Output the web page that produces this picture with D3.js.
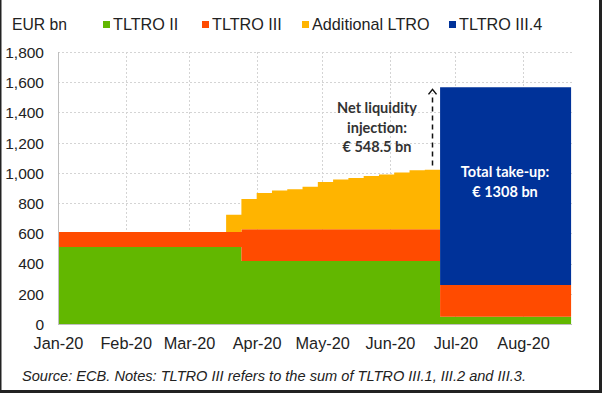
<!DOCTYPE html>
<html><head><meta charset="utf-8">
<script src="https://cdn.jsdelivr.net/npm/d3@7"></script>
<style>
html,body{margin:0;padding:0;background:#fff;}
svg{display:block;}
</style></head>
<body>
<svg id="chart" width="602" height="393"></svg>
<script>
// ---- data ----
const stepDates = ["2020-01-01","2020-03-18","2020-03-25","2020-04-01","2020-04-08","2020-04-15","2020-04-22","2020-04-29","2020-05-06","2020-05-13","2020-05-20","2020-05-27","2020-06-03","2020-06-10","2020-06-17","2020-06-24","2020-08-23"];
const tltro2     = [510,510,417,417,417,417,417,417,417,417,417,417,417,417,417,48,48];
const tltro3     = [98, 98, 210,210,210,210,210,210,210,210,210,210,210,210,210,210,210];
const addLtro    = [0, 115,200,240,256,265,282,313,330,340,352,362,375,390,393,0,0];
const tltro34    = [0,0,0,0,0,0,0,0,0,0,0,0,0,0,0,1308,1308];
const seriesNames = ["TLTRO II","TLTRO III","Additional LTRO","TLTRO III.4"];
const seriesColors = ["#62b700","#ff4b00","#ffb400","#003299"];
const yTicks = [0,200,400,600,800,1000,1200,1400,1600,1800];
const monthTicks = ["2020-01-01","2020-02-01","2020-03-01","2020-04-01","2020-05-01","2020-06-01","2020-07-01","2020-08-01"];
const unitLabel = "EUR bn";
const noteText = "Source: ECB. Notes: TLTRO III refers to the sum of TLTRO III.1, III.2 and III.3.";
const arrowNote = ["Net liquidity","injection:","€ 548.5 bn"];
const takeUpNote = ["Total take-up:","€ 1308 bn"];

// ---- build ----
const parse = d3.utcParse("%Y-%m-%d");
const keys = ["a","b","c","d"];
const table = stepDates.map((d,i)=>({date:parse(d), a:tltro2[i], b:tltro3[i], c:addLtro[i], d:tltro34[i]}));
const stacked = d3.stack().keys(keys)(table);

const svg = d3.select("#chart");
const x = d3.scaleUtc().domain([parse("2020-01-01"), new Date(Date.UTC(2020,7,22,12))]).range([58,570]);
const y = d3.scaleLinear().domain([0,1800]).range([324,52]);

const font = "'Liberation Sans', Arial, sans-serif";

// gridlines
const grid = svg.append("g");
grid.selectAll("line.h").data(yTicks.slice(1)).join("line")
  .attr("x1",58).attr("x2",572).attr("y1",d=>Math.round(y(d))+0.5).attr("y2",d=>Math.round(y(d))+0.5)
  .attr("stroke","#d4d4d4").attr("stroke-width",1).attr("stroke-dasharray","2,2");
grid.selectAll("line.v").data(monthTicks.slice(1)).join("line")
  .attr("x1",d=>Math.round(x(parse(d)))+0.5).attr("x2",d=>Math.round(x(parse(d)))+0.5)
  .attr("y1",52).attr("y2",324)
  .attr("stroke","#d4d4d4").attr("stroke-width",1).attr("stroke-dasharray","2,2");

// areas
const area = d3.area().curve(d3.curveStepAfter)
  .x(d=>x(d.data.date)).y0(d=>y(d[0])).y1(d=>y(d[1]));
svg.append("g").selectAll("path").data(stacked).join("path")
  .attr("d",area).attr("fill",(d,i)=>seriesColors[i]);

// axes
const yAxis = d3.axisLeft(y).tickValues(yTicks).tickSize(0).tickPadding(0).tickFormat(d3.format(","));
const ya = svg.append("g").attr("transform","translate(44,0)").call(yAxis);
ya.select(".domain").remove();
ya.selectAll("text").attr("font-family",font).attr("font-size",15.5).attr("fill","#222").attr("dy","0.35em");
svg.append("line").attr("x1",58.5).attr("x2",58.5).attr("y1",52).attr("y2",324).attr("stroke","#bfbfbf");
svg.append("line").attr("x1",58).attr("x2",572).attr("y1",324.5).attr("y2",324.5).attr("stroke","#bfbfbf");

const xAxis = d3.axisBottom(x).tickValues(monthTicks.map(parse)).tickSize(0).tickPadding(0).tickFormat(d3.utcFormat("%b-%y"));
const xa = svg.append("g").attr("transform","translate(0,337)").call(xAxis);
xa.select(".domain").remove();
xa.selectAll("text").attr("font-family",font).attr("font-size",16.3).attr("fill","#222").attr("dy","0.71em");

// legend
svg.append("text").attr("x",12).attr("y",30).attr("font-family",font).attr("font-size",15.7).attr("fill","#222").text(unitLabel);
const legX = [103,202,302,449];
const leg = svg.append("g").selectAll("g").data(seriesNames).join("g");
leg.append("rect").attr("x",(d,i)=>legX[i]).attr("y",21).attr("width",7).attr("height",7).attr("fill",(d,i)=>seriesColors[i]);
leg.append("text").attr("x",(d,i)=>legX[i]+10).attr("y",30).attr("font-family",font).attr("font-size",16.2).attr("fill","#222").text(d=>d);

// arrow annotation
const ax = 432.5;
svg.append("line").attr("x1",ax).attr("x2",ax).attr("y1",y(1022)-4).attr("y2",y(1566)+6)
  .attr("stroke","#111").attr("stroke-width",1.5).attr("stroke-dasharray","5,4");
svg.append("path").attr("d",`M${ax-4},${y(1566)+7} L${ax},${y(1566)+2} L${ax+4},${y(1566)+7}`)
  .attr("fill","none").attr("stroke","#111").attr("stroke-width",1.5);
svg.append("g").selectAll("text").data(arrowNote).join("text")
  .attr("x",377).attr("y",(d,i)=>113+i*19.5).attr("text-anchor","middle")
  .attr("font-family","Lato, 'Open Sans', sans-serif").attr("font-weight","bold").attr("font-size",14.5).attr("fill","#333").text(d=>d);

// take-up annotation
svg.append("g").selectAll("text").data(takeUpNote).join("text")
  .attr("x",(x(parse("2020-06-24"))+x.range()[1])/2).attr("y",(d,i)=>177+i*20).attr("text-anchor","middle")
  .attr("font-family","Lato, 'Open Sans', sans-serif").attr("font-weight","bold").attr("font-size",14.5).attr("fill","#fff").text(d=>d);

// source note
svg.append("text").attr("x",22).attr("y",381).attr("font-family",font).attr("font-style","italic").attr("font-size",14.6).attr("fill","#222").text(noteText);

// frame
svg.append("rect").attr("x",0).attr("y",0).attr("width",1.5).attr("height",393).attr("fill","#222");
svg.append("rect").attr("x",599).attr("y",0).attr("width",3).attr("height",393).attr("fill","#222");
svg.append("rect").attr("x",0).attr("y",390).attr("width",602).attr("height",3).attr("fill","#222");
</script>
</body></html>
